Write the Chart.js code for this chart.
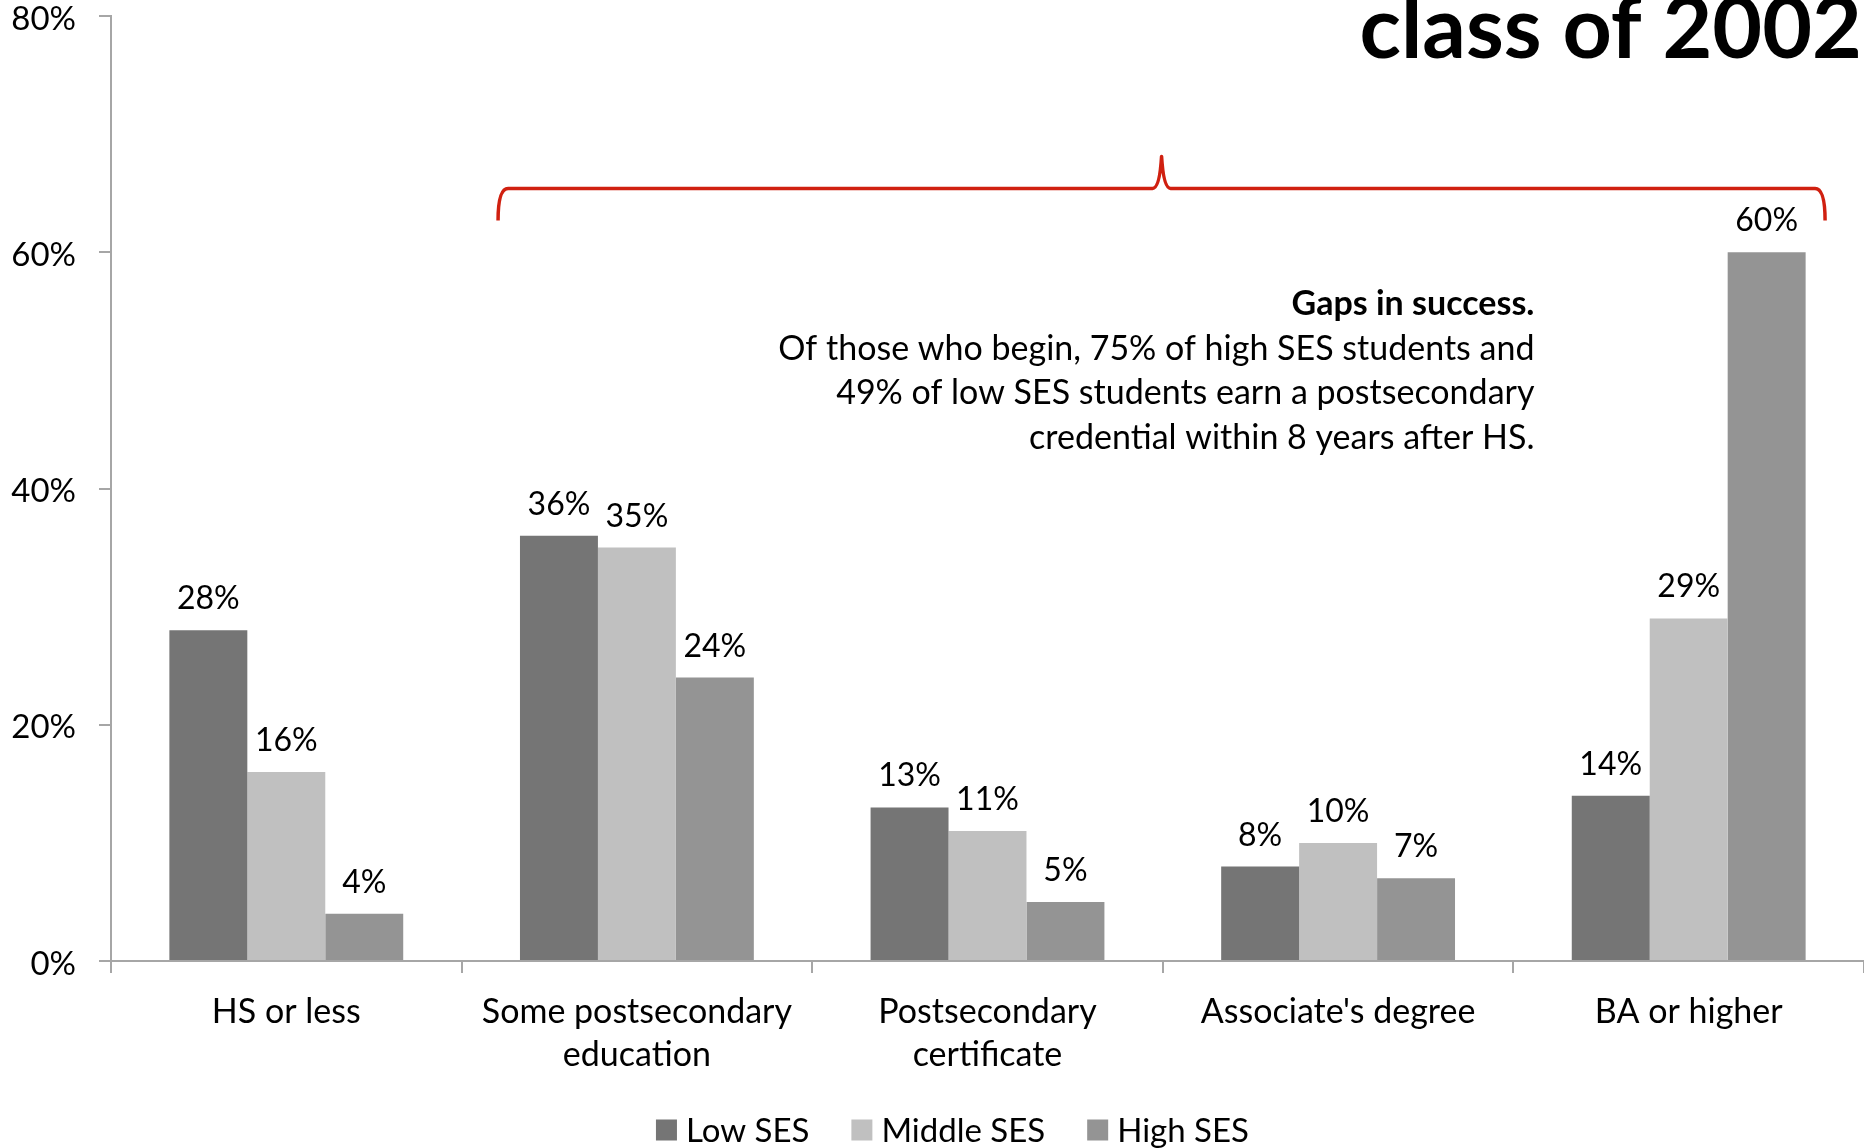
<!DOCTYPE html>
<html>
<head>
<meta charset="utf-8">
<script src="https://cdn.jsdelivr.net/npm/chart.js@4"></script>
<style>
  html, body { margin: 0; padding: 0; background: #ffffff; }
  #wrap { width: 1864px; height: 1148px; }
</style>
</head>
<body>
<div id="wrap"><canvas id="c" width="1864" height="1148"></canvas></div>
<script>
const categories = ['HS or less', ['Some postsecondary', 'education'], ['Postsecondary', 'certificate'], "Associate's degree", 'BA or higher'];
const seriesNames = ['Low SES', 'Middle SES', 'High SES'];
const lowSES = [28, 36, 13, 8, 14];
const middleSES = [16, 35, 11, 10, 29];
const highSES = [4, 24, 5, 7, 60];
const yTickValues = [0, 20, 40, 60, 80];
const titleText = 'class of 2002';
const noteTitle = 'Gaps in success.';
const noteLines = [
  'Of those who begin, 75% of high SES students and',
  '49% of low SES students earn a postsecondary',
  'credential within 8 years after HS.'
];

const colors = ['#757575', '#c0c0c0', '#949494'];
const FONT = 'Lato, "Open Sans", sans-serif';
const AXIS = '#a6a6a6';

const overlay = {
  id: 'overlay',
  afterDatasetsDraw(chart) {
    const ctx = chart.ctx;
    const xs = chart.scales.x, ys = chart.scales.y;
    const area = chart.chartArea;
    const catW = (area.right - area.left) / categories.length;
    ctx.save();
    // data labels
    ctx.fillStyle = '#000';
    ctx.font = '32px ' + FONT;
    ctx.textAlign = 'center';
    ctx.textBaseline = 'alphabetic';
    chart.data.datasets.forEach((ds, di) => {
      const meta = chart.getDatasetMeta(di);
      meta.data.forEach((bar, i) => {
        ctx.fillText(ds.data[i] + '%', bar.x, bar.y - 21);
      });
    });
    // title
    ctx.font = 'bold 86px ' + FONT;
    ctx.textAlign = 'right';
    ctx.fillText(titleText, chart.width - 2, 58);
    // annotation
    const nx = xs.getPixelForValue(4) - 0.44 * catW;
    let ny = ys.getPixelForValue(54.7);
    ctx.font = 'bold 34px ' + FONT;
    ctx.fillText(noteTitle, nx, ny);
    ctx.font = '34px ' + FONT;
    noteLines.forEach((l, i) => ctx.fillText(l, nx, ny + 44.7 * (i + 1)));
    // brace
    const x0 = xs.getPixelForValue(1) - 0.396 * catW;
    const x1 = xs.getPixelForValue(4) + 0.389 * catW;
    const xm = (x0 + x1) / 2;
    const yl = ys.getPixelForValue(65.4);
    ctx.strokeStyle = '#d02010';
    ctx.lineWidth = 3.5;
    ctx.lineJoin = 'round';
    ctx.beginPath();
    ctx.moveTo(x0, yl + 32);
    ctx.quadraticCurveTo(x0, yl, x0 + 10, yl);
    ctx.lineTo(xm - 9, yl);
    ctx.quadraticCurveTo(xm - 2, yl, xm, yl - 32);
    ctx.quadraticCurveTo(xm + 2, yl, xm + 9, yl);
    ctx.lineTo(x1 - 10, yl);
    ctx.quadraticCurveTo(x1, yl, x1, yl + 32);
    ctx.stroke();
    // legend
    ctx.font = '33px ' + FONT;
    ctx.textAlign = 'left';
    ctx.textBaseline = 'middle';
    const box = 21, gapBT = 9, gapItem = 42;
    const widths = seriesNames.map(n => box + gapBT + ctx.measureText(n).width);
    const total = widths.reduce((a, b) => a + b, 0) + gapItem * (seriesNames.length - 1);
    let lx = area.left + (area.right - area.left) * 0.48 - total / 2;
    const ly = 1130;
    seriesNames.forEach((n, i) => {
      ctx.fillStyle = colors[i];
      ctx.fillRect(lx, ly - box / 2, box, box);
      ctx.fillStyle = '#000';
      ctx.fillText(n, lx + box + gapBT, ly + 1);
      lx += widths[i] + gapItem;
    });
    ctx.restore();
  }
};

new Chart(document.getElementById('c'), {
  type: 'bar',
  data: {
    labels: categories,
    datasets: [
      { label: seriesNames[0], data: lowSES, backgroundColor: colors[0] },
      { label: seriesNames[1], data: middleSES, backgroundColor: colors[1] },
      { label: seriesNames[2], data: highSES, backgroundColor: colors[2] }
    ]
  },
  options: {
    responsive: false,
    animation: false,
    devicePixelRatio: 1,
    layout: { padding: { top: 16, left: 0, right: 0, bottom: 0 } },
    plugins: { legend: { display: false }, tooltip: { enabled: false } },
    datasets: { bar: { categoryPercentage: 0.667, barPercentage: 1.0, borderWidth: 0 } },
    scales: {
      x: {
        grid: { drawOnChartArea: false, drawTicks: true, tickLength: 12, color: AXIS, lineWidth: 2, offset: true },
        border: { color: AXIS, width: 2 },
        ticks: { color: '#000', font: { family: FONT, size: 34, lineHeight: 1.27 }, padding: 17, maxRotation: 0, autoSkip: false },
        afterFit(s) { s.height = 187; s.paddingLeft = 0; s.paddingRight = 0; }
      },
      y: {
        min: 0, max: 80,
        afterBuildTicks(s) { s.ticks = yTickValues.map(v => ({ value: v })); },
        grid: { drawOnChartArea: false, drawTicks: true, tickLength: 12, color: AXIS, lineWidth: 2 },
        border: { color: AXIS, width: 2 },
        ticks: { color: '#000', font: { family: FONT, size: 33 }, padding: 23, labelOffset: 3, callback: v => v + '%' },
        afterFit(s) { s.width = 111; s.paddingTop = 0; s.paddingBottom = 0; }
      }
    }
  },
  plugins: [overlay]
});
</script>
</body>
</html>
